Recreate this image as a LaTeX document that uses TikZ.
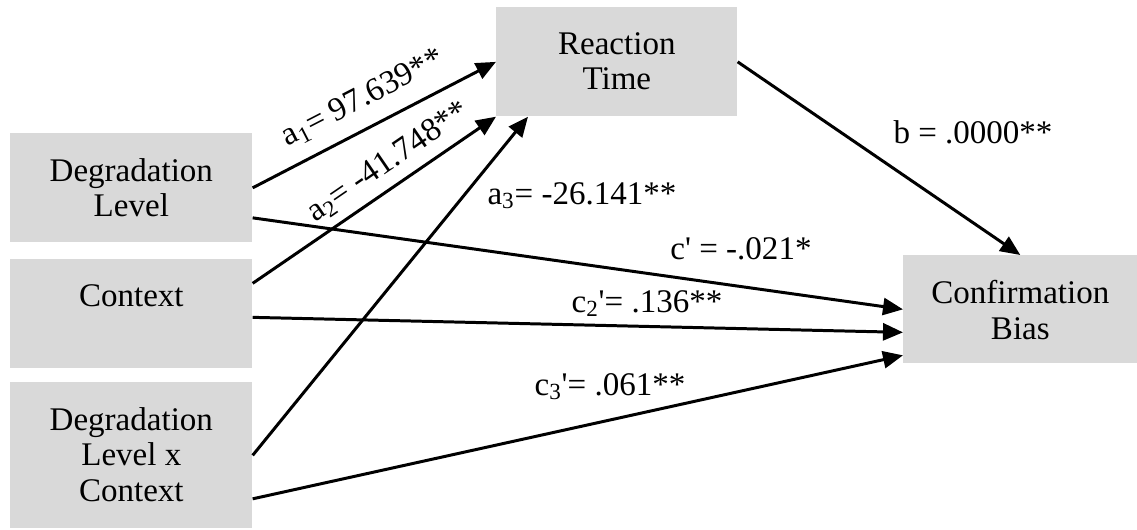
\documentclass[tikz,border=0pt]{standalone}
\usepackage{fontspec}
\setmainfont{Liberation Serif}
\usepackage{tikz}
\usetikzlibrary{arrows.meta}
\definecolor{cBox} {HTML}{D9D9D9}
\definecolor{cText}{HTML}{000000}
% top-aligned text inside a fixed-size box
\newcommand{\boxtext}[3]{\parbox[c][#1][t]{#2}{\centering\vspace*{0.5cm}#3}}

\begin{document}
\begin{tikzpicture}[x=0.02cm, y=-0.02cm,
    font=\fontsize{18.8}{20.3}\selectfont, text=cText,
    varbox/.style={fill=cBox, inner sep=0pt, anchor=north west},
    link/.style={line width=1.7pt, -{Triangle[length=0.4cm, width=0.34cm]}},
    coef/.style={anchor=base, inner sep=0pt}]
  \useasboundingbox (0,0) rectangle (1137,529);
  % predictors
  \node[varbox] (deg)   at (10,133) {\boxtext{2.18cm}{4.84cm}{Degradation\\Level}};
  \node[varbox] (ctx)   at (10,259) {\boxtext{2.18cm}{4.84cm}{Context}};
  \node[varbox] (inter) at (10,382) {\boxtext{2.92cm}{4.84cm}{Degradation\\Level x\\Context}};
  % mediator and outcome
  \node[varbox] (rt) at (496,7)   {\boxtext{2.18cm}{4.82cm}{Reaction\\Time}};
  \node[varbox] (cb) at (903,255) {\boxtext{2.16cm}{4.68cm}{Confirmation\\Bias}};
  % a paths
  \draw[link] (deg.east) -- (rt.west);
  \draw[link] ([yshift=0.61cm]ctx.east) -- (rt.south west);
  \draw[link] (inter.east) -- ([xshift=0.64cm]rt.south west);
  % b path
  \draw[link] (rt.east) -- (cb.north);
  % direct paths
  \draw[link] ([yshift=-0.6cm]deg.east) -- (cb.west);
  \draw[link] ([yshift=-0.07cm]ctx.east) -- ([yshift=-0.46cm]cb.west);
  \draw[link] ([yshift=-0.87cm]inter.east) -- ([yshift=-0.92cm]cb.west);
  % coefficients
  \node[coef, rotate=27.3] (la1) at (367,106) {a\textsubscript{1}= 97.639**};
  \node[coef, rotate=34.4] (la2) at (393,169) {a\textsubscript{2}= -41.748**};
  \node[coef] (la3) at (582,204) {a\textsubscript{3}= -26.141**};
  \node[coef] (lb)  at (973,143) {b = .0000**};
  \node[coef] (lc1) at (741,259) {c\textquotesingle{} = -.021*};
  \node[coef] (lc2) at (647,312) {c\textsubscript{2}\textquotesingle= .136**};
  \node[coef] (lc3) at (610,395) {c\textsubscript{3}\textquotesingle= .061**};
\end{tikzpicture}
\end{document}
